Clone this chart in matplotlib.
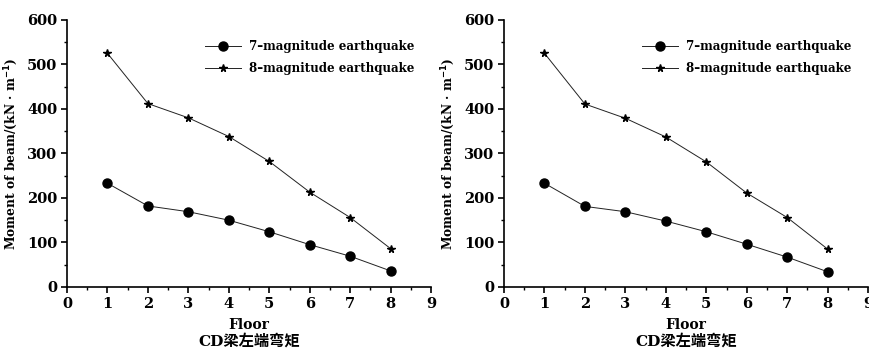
import numpy as np
import matplotlib
matplotlib.use("Agg")
import matplotlib.pyplot as plt
from matplotlib.ticker import MultipleLocator

# 数据
floors = [1, 2, 3, 4, 5, 6, 7, 8]
left_m7 = [233, 182, 169, 150, 124, 95, 69, 36]
left_m8 = [525, 412, 380, 338, 282, 213, 156, 86]
right_m7 = [233, 181, 169, 148, 124, 96, 67, 34]
right_m8 = [525, 411, 379, 337, 281, 211, 156, 85]
labels = ['7–magnitude earthquake', '8–magnitude earthquake']
xlabel = 'Floor'
ylabel = r'Moment of beam/(kN · m$^{\mathbf{-1}}$)'
caption = 'CD梁左端弯矩'

plt.rcParams['font.family'] = ['DejaVu Serif', 'Noto Sans CJK SC']
plt.rcParams['font.weight'] = 'bold'
plt.rcParams['mathtext.default'] = 'bf'

fig = plt.figure(figsize=(8.69, 3.56), dpi=100)

def draw(ax, m7, m8):
    ax.plot(floors, m7, color='#222222', lw=0.7, marker='o', ms=6.5,
            mfc='black', mec='black', label=labels[0])
    ax.plot(floors, m8, color='#222222', lw=0.7, marker='*', ms=5.5,
            mfc='black', mec='black', label=labels[1])
    ax.set_xlim(0, 9)
    ax.set_ylim(0, 600)
    ax.xaxis.set_major_locator(MultipleLocator(1))
    ax.xaxis.set_minor_locator(MultipleLocator(0.5))
    ax.yaxis.set_major_locator(MultipleLocator(100))
    ax.yaxis.set_minor_locator(MultipleLocator(50))
    ax.spines['top'].set_visible(False)
    ax.spines['right'].set_visible(False)
    for s in ('left', 'bottom'):
        ax.spines[s].set_linewidth(1.2)
    ax.tick_params(which='major', direction='out', length=4, width=1.2,
                   labelsize=10.5, pad=3)
    ax.tick_params(which='minor', direction='out', length=2.5, width=1.0)
    for t in ax.get_xticklabels() + ax.get_yticklabels():
        t.set_fontweight('bold')
    ax.set_xlabel(xlabel, fontsize=10, fontweight='bold', labelpad=5)
    ax.set_ylabel(ylabel, fontsize=8.8, fontweight='bold', labelpad=5)
    ax.legend(loc='upper right', bbox_to_anchor=(0.975, 0.95), frameon=False,
              handlelength=3.0, handletextpad=0.7,
              labelspacing=0.75, borderaxespad=0.2,
              prop={'weight': 'bold', 'size': 8.6})

ax1 = fig.add_axes([0.0771, 0.194, 0.419, 0.75])
draw(ax1, left_m7, left_m8)
ax2 = fig.add_axes([0.580, 0.194, 0.419, 0.75])
draw(ax2, right_m7, right_m8)

for ax in (ax1, ax2):
    pos = ax.get_position()
    fig.text((pos.x0 + pos.x1) / 2, 0.022, caption, ha='center', va='bottom',
             fontsize=11, fontweight='bold')

fig.savefig('out.png', dpi=100)
